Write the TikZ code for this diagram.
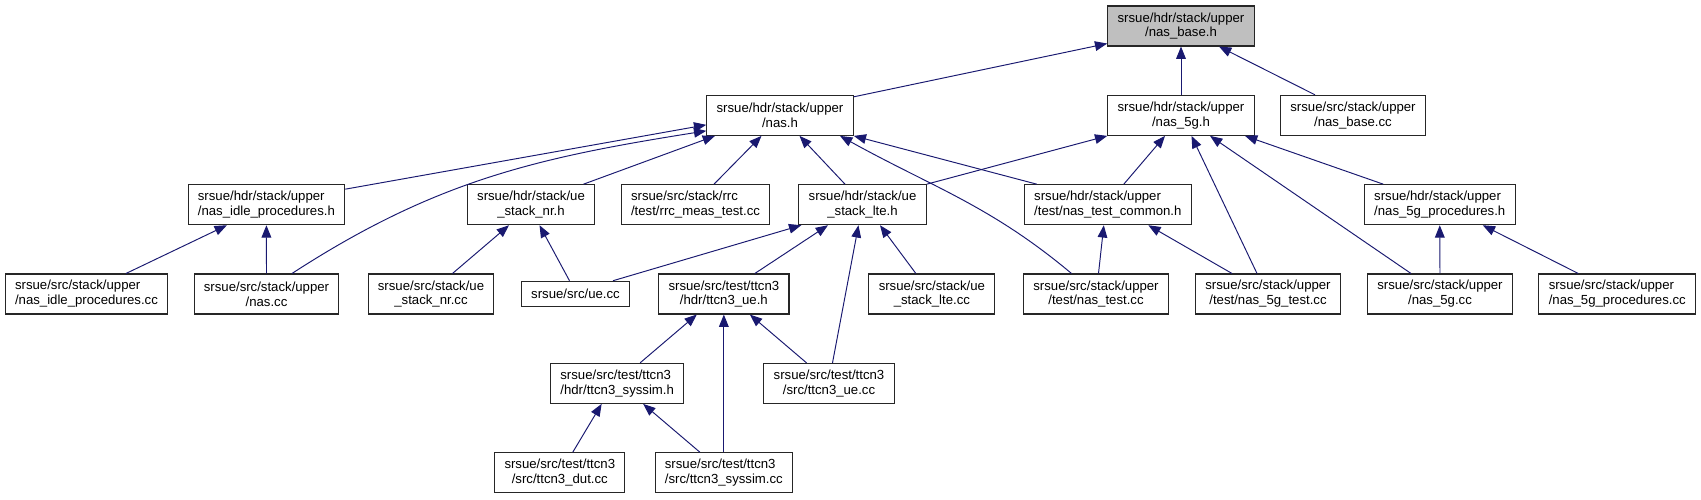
\documentclass[tikz,border=0pt]{standalone}
\usepackage{fontspec}
\setmainfont{Liberation Sans}
\usetikzlibrary{arrows.meta,calc}
\definecolor{edgeblue}{HTML}{191970}

\begin{document}
\begin{tikzpicture}[
		font=\fontsize{7.5}{8.5}\selectfont,
		file/.style={
			draw=black!85,
			line width=0.6pt,
			fill=white,
			align=center,
			minimum height=0.8cm,
			inner xsep=5.6pt,
			inner ysep=1pt
		},
		lfile/.style={
			file,
			align=left
		},
		root/.style={
			file,
			fill=black!25
		},
		link/.style={
			-{Triangle[length=7pt,width=5.5pt]},
			draw=edgeblue,
			line width=0.55pt
		}
	]
		\useasboundingbox (0,0) rectangle (34.02,-9.98);

		\node[root] (base) at (23.62,-0.52) {srsue/hdr/stack/upper\\/nas\_base.h};

		\node[file] (nas) at (15.60,-2.307) {srsue/hdr/stack/upper\\/nas.h};
		\node[file] (nas5g) at (23.62,-2.307) {srsue/hdr/stack/upper\\/nas\_5g.h};
		\node[file] (nasBaseCc) at (27.06,-2.307) {srsue/src/stack/upper\\/nas\_base.cc};

		\node[lfile] (idleH) at (5.328,-4.094) {srsue/hdr/stack/upper\\/nas\_idle\_procedures.h};
		\node[file] (nrH) at (10.62,-4.094) {srsue/hdr/stack/ue\\\_stack\_nr.h};
		\node[lfile] (rrcCc) at (13.91,-4.094) {srsue/src/stack/rrc\\/test/rrc\_meas\_test.cc};
		\node[file] (lteH) at (17.25,-4.094) {srsue/hdr/stack/ue\\\_stack\_lte.h};
		\node[lfile] (commonH) at (22.156,-4.094) {srsue/hdr/stack/upper\\/test/nas\_test\_common.h};
		\node[lfile] (procH) at (28.795,-4.094) {srsue/hdr/stack/upper\\/nas\_5g\_procedures.h};

		\node[lfile] (idleCc) at (1.73,-5.88) {srsue/src/stack/upper\\/nas\_idle\_procedures.cc};
		\node[file] (nasCc) at (5.33,-5.88) {srsue/src/stack/upper\\/nas.cc};
		\node[file] (nrCc) at (8.62,-5.88) {srsue/src/stack/ue\\\_stack\_nr.cc};
		\node[file,minimum height=0.51cm] (ueCc) at (11.51,-5.88) {srsue/src/ue.cc};
		\node[file] (ttcnUeH) at (14.477,-5.88) {srsue/src/test/ttcn3\\/hdr/ttcn3\_ue.h};
		\node[file] (lteCc) at (18.637,-5.88) {srsue/src/stack/ue\\\_stack\_lte.cc};
		\node[file] (nasTestCc) at (21.92,-5.88) {srsue/src/stack/upper\\/test/nas\_test.cc};
		\node[file] (nas5gTest) at (25.36,-5.88) {srsue/src/stack/upper\\/test/nas\_5g\_test.cc};
		\node[file] (nas5gCc) at (28.80,-5.88) {srsue/src/stack/upper\\/nas\_5g.cc};
		\node[lfile] (procCc) at (32.345,-5.88) {srsue/src/stack/upper\\/nas\_5g\_procedures.cc};

		\node[lfile] (syssimH) at (12.343,-7.667) {srsue/src/test/ttcn3\\/hdr/ttcn3\_syssim.h};
		\node[file] (ttcnUeCc) at (16.58,-7.667) {srsue/src/test/ttcn3\\/src/ttcn3\_ue.cc};

		\node[file] (dutCc) at (11.196,-9.454) {srsue/src/test/ttcn3\\/src/ttcn3\_dut.cc};
		\node[lfile] (syssimCc) at (14.477,-9.454) {srsue/src/test/ttcn3\\/src/ttcn3\_syssim.cc};

		% child top -> parent bottom
		\foreach \a/\da/\b/\db in {nasBaseCc/-0.76/base/0.76, nas5g/0/base/0,
				nrH/1.05/nas/-1.3, rrcCc/0.37/nas/-0.37, lteH/-0.35/nas/0.39,
				commonH/0.32/nas5g/-0.32, nas5gTest/-0.22/nas5g/0.21, nas5gCc/-0.58/nas5g/0.58, procH/-1.13/nas5g/1.28,
				idleCc/0.79/idleH/-0.79, nasCc/0/idleH/0, nrCc/0.43/nrH/-0.44, ueCc/-0.12/nrH/0.17,
				ttcnUeH/0.62/lteH/-0.69, ttcnUeCc/0.07/lteH/-0.08, lteCc/-0.32/lteH/0.35,
				nasTestCc/0.05/commonH/-0.08, nas5gTest/-0.72/commonH/0.81,
				nas5gCc/0/procH/0, procCc/-0.78/procH/0.86,
				syssimH/0.46/ttcnUeH/-0.54, syssimCc/0/ttcnUeH/0, ttcnUeCc/-0.45/ttcnUeH/0.52,
				dutCc/0.26/syssimH/-0.31, syssimCc/-0.48/syssimH/0.52}
			\draw[link] ($(\a.north)+(\da,0)$) -- ($(\b.south)+(\db,0)$);

		% the odd ones
		\draw[link] ($(nas.north east)+(0,-0.04)$) -- ($(base.south west)+(0,0.06)$);
		\draw[link] ($(idleH.north east)+(0,-0.1)$) -- ($(nas.west)+(0,-0.19)$);
		\draw[link] ($(nasCc.north)+(0.51,0)$) to[out=33,in=189] ($(nas.west)+(0,-0.31)$);
		\draw[link] ($(nasTestCc.north)+(-0.49,0)$) to[out=140,in=-29] ($(nas.south)+(1.2,0)$);
		\draw[link] ($(commonH.north)+(-1.42,0)$) -- (nas.south east);
		\draw[link] (lteH.north east) -- (nas5g.south west);
		\draw[link] ($(ueCc.north)+(0.75,0)$) -- ($(lteH.south west)+(0.06,0)$);
	\end{tikzpicture}
\end{document}
